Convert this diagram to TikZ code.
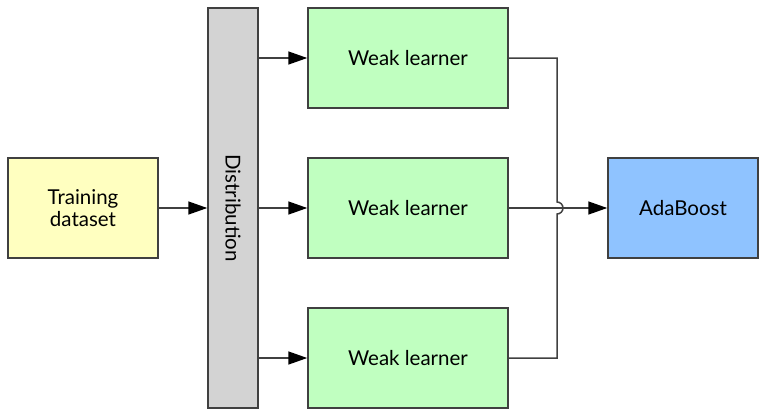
\documentclass[tikz,border=0pt]{standalone}
\usepackage{fontspec}
\setmainfont{Lato}
\usetikzlibrary{arrows.meta}
\definecolor{edgec}{HTML}{404040}
\definecolor{yel}{HTML}{FFFFC0}
\definecolor{grn}{HTML}{C0FFC0}
\definecolor{gry}{HTML}{D3D3D3}
\definecolor{blu}{HTML}{8FC3FF}
\begin{document}
\begin{tikzpicture}[x=1pt,y=-1pt,
  lbl/.style={font=\fontsize{20.5}{22}\selectfont},
  box/.style={draw=edgec,line width=1.5pt,inner sep=0pt,align=center,lbl},
  conn/.style={draw=edgec,line width=1.5pt},
  arr/.style={conn,-{Triangle[length=19pt,width=13pt,fill=black,color=black]}}]
\useasboundingbox (0,0) rectangle (766,416);
\node[box,fill=yel,minimum width=150pt,minimum height=100pt] (train) at (83,208) {Training\\dataset};
\node[box,fill=gry,minimum width=50pt,minimum height=400pt] (dist) at (233,208) {};
\node[lbl,rotate=-90] (distlab) at (dist.center) {Distribution};
\node[box,fill=grn,minimum width=200pt,minimum height=100pt] (w1) at (408,58) {Weak learner};
\node[box,fill=grn,minimum width=200pt,minimum height=100pt] (w2) at (408,208) {Weak learner};
\node[box,fill=grn,minimum width=200pt,minimum height=100pt] (w3) at (408,358) {Weak learner};
\node[box,fill=blu,minimum width=150pt,minimum height=100pt] (ada) at (683,208) {AdaBoost};
\draw[arr] (train.east) -- (dist.west |- train.east);
\draw[arr] (dist.east |- w1.west) -- (w1.west);
\draw[arr] (dist.east |- w2.west) -- (w2.west);
\draw[arr] (dist.east |- w3.west) -- (w3.west);
\draw[arr] (w2.east) -- (ada.west);
\coordinate (j1) at (557,58);
\coordinate (j3) at (557,358);
\coordinate (h1) at (557,202);
\draw[conn] (w1.east) -- (j1) -- (h1) arc[start angle=90,end angle=-90,radius=6pt] -- (j3) -- (w3.east);
\end{tikzpicture}
\end{document}
